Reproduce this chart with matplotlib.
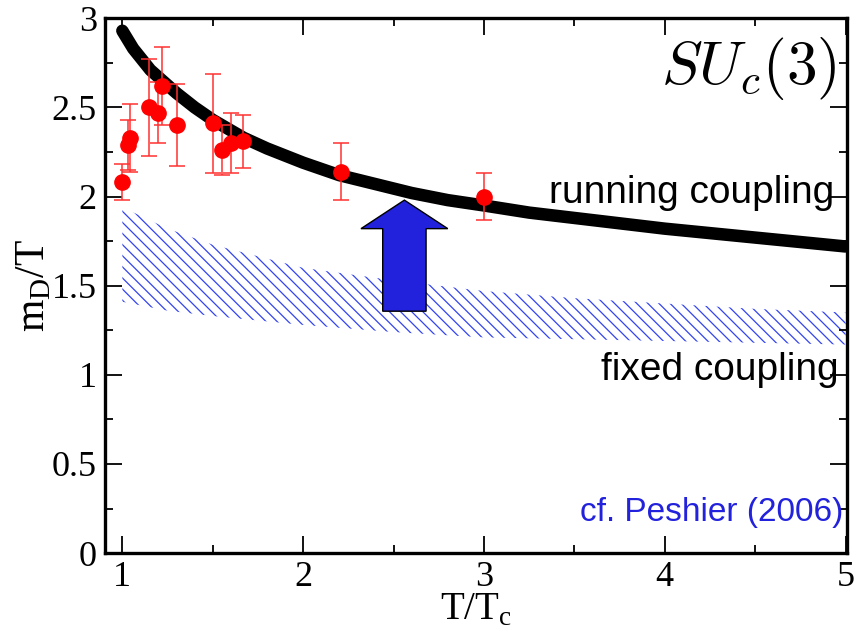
import matplotlib.pyplot as plt

# lattice data points (T/Tc, mD/T, error)
lat_x = [1.00, 1.03, 1.045, 1.15, 1.195, 1.22, 1.30, 1.50, 1.55, 1.60, 1.67, 2.21, 3.00]
lat_y = [2.08, 2.29, 2.33, 2.50, 2.47, 2.62, 2.40, 2.41, 2.26, 2.30, 2.31, 2.14, 2.00]
lat_err = [0.10, 0.14, 0.19, 0.27, 0.17, 0.22, 0.23, 0.28, 0.14, 0.17, 0.15, 0.16, 0.13]

# running coupling curve
run_x = [1.0, 1.06, 1.155, 1.3, 1.4, 1.5, 1.67, 1.8, 2.0, 2.2, 2.4, 2.6, 2.8,
         3.0, 3.25, 3.5, 3.75, 4.0, 4.5, 5.0]
run_y = [2.93, 2.83, 2.71, 2.58, 2.50, 2.43, 2.33, 2.27, 2.19, 2.12, 2.07, 2.02, 1.98,
         1.95, 1.91, 1.88, 1.85, 1.82, 1.77, 1.72]

# fixed coupling band
band_x = [1.0, 1.25, 1.5, 2.0, 2.5, 3.0, 3.5, 4.0, 4.5, 5.0]
band_hi = [1.94, 1.82, 1.73, 1.60, 1.53, 1.47, 1.43, 1.40, 1.37, 1.35]
band_lo = [1.41, 1.36, 1.33, 1.28, 1.24, 1.21, 1.20, 1.19, 1.18, 1.17]

serif = 'Liberation Serif'
sans = 'Liberation Sans'

fig = plt.figure(figsize=(8.62, 6.3), dpi=100)
ax = fig.add_axes([0.122, 0.122, 0.861, 0.849])

plt.rcParams['hatch.linewidth'] = 0.9
ax.fill_between(band_x, band_lo, band_hi, facecolor='none', edgecolor='#3344ee',
                hatch='\\\\\\', linewidth=0)

ax.plot(run_x, run_y, color='black', lw=9, solid_capstyle='round',
        solid_joinstyle='round', zorder=3)

ax.errorbar(lat_x, lat_y, yerr=lat_err, fmt='o', color='red', ms=11,
            ecolor='#ff3030', elinewidth=1.1, capsize=6, capthick=1.1, zorder=4)

ax.arrow(2.56, 1.357, 0, 1.98 - 1.357, width=0.24, head_width=0.48,
         head_length=0.16, length_includes_head=True,
         facecolor='#2222dd', edgecolor='black', linewidth=1, zorder=5)

ax.text(4.94, 2.02, 'running coupling', family=sans, fontsize=28,
        ha='right', va='center')
ax.text(4.96, 1.03, 'fixed coupling', family=sans, fontsize=28,
        ha='right', va='center')
ax.text(4.99, 0.23, 'cf. Peshier (2006)', family=sans, fontsize=24,
        color='#2222dd', ha='right', va='center')
ax.text(4.95, 2.72, r'$SU_c(3)$', fontsize=44, math_fontfamily='cm',
        ha='right', va='center')

ax.set_xlim(0.905, 5.01)
ax.set_ylim(0, 3)
ax.set_xticks([1, 2, 3, 4, 5])
ax.set_xticks([1.5, 2.5, 3.5, 4.5], minor=True)
ax.set_yticks([0, 0.5, 1, 1.5, 2, 2.5, 3])
ax.set_yticklabels(['0', '0.5', '1', '1.5', '2', '2.5', '3'])
ax.set_yticks([0.25, 0.75, 1.25, 1.75, 2.25, 2.75], minor=True)

ax.tick_params(which='both', direction='in', top=True, right=True, width=1.3,
               labelsize=26, pad=6)
ax.tick_params(which='major', length=12)
ax.tick_params(which='minor', length=6)
for lab in ax.get_xticklabels() + ax.get_yticklabels():
    lab.set_family(serif)
for s in ax.spines.values():
    s.set_linewidth(2.4)

ax.set_xlabel(r'T/T$_\mathregular{c}$', family=serif, fontsize=28, labelpad=-2)
ax.set_ylabel(r'm$_\mathregular{D}$/T', family=serif, fontsize=30, labelpad=-1)

fig.savefig('out.png', dpi=100)
